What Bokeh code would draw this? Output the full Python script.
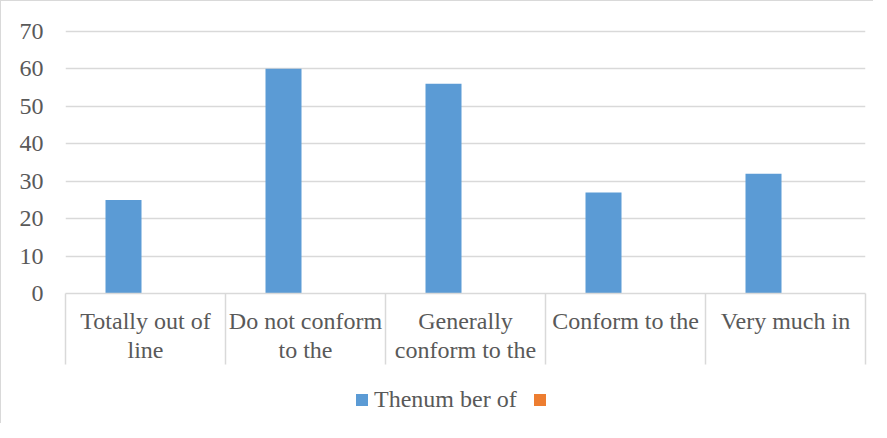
from bokeh.plotting import figure
from bokeh.layouts import column
from bokeh.models import (Range1d, FixedTicker, ColumnDataSource, Legend, LegendItem)
from bokeh.embed import file_html
from bokeh.resources import INLINE
import numpy as np

categories = ["Totally out of\nline", "Do not conform\nto the", "Generally\nconform to the",
              "Conform to the", "Very much in"]
values = [25, 60, 56, 27, 32]
values2 = [np.nan, np.nan, np.nan, np.nan, np.nan]   # second series is empty in the source
series_names = ["Thenum ber of", "\u00a0"]
y_ticks = [0, 10, 20, 30, 40, 50, 60, 70]

BLUE = "#5B9BD5"
ORANGE = "#ED7D31"
TEXT = "#595959"
GRID = "#D9D9D9"
FONT = "Liberation Serif"

n = len(categories)
centers = np.arange(n) + 0.5
bar_offset = -0.1375
bar_width = 0.225

p = figure(width=872, height=365, output_backend="svg", toolbar_location=None,
           x_range=Range1d(0, n), y_range=Range1d(0, 70.5),
           min_border_left=64, min_border_right=8, min_border_top=28, min_border_bottom=72,
           tools="")
p.outline_line_color = None
p.background_fill_color = "white"
p.border_fill_color = "white"

src1 = ColumnDataSource(dict(x=centers + bar_offset, top=values))
src2 = ColumnDataSource(dict(x=centers - bar_offset, top=values2))
r1 = p.vbar(x="x", top="top", bottom=0, width=bar_width, source=src1,
            fill_color=BLUE, line_color=None)
r2 = p.vbar(x="x", top="top", bottom=0, width=bar_width, source=src2,
            fill_color=ORANGE, line_color=None)

# y axis
p.yaxis.ticker = FixedTicker(ticks=y_ticks)
p.yaxis.axis_line_color = None
p.yaxis.major_tick_line_color = None
p.yaxis.minor_tick_line_color = None
p.yaxis.major_tick_out = 0
p.yaxis.major_tick_in = 0
p.yaxis.major_label_standoff = 22
p.yaxis.major_label_text_font = FONT
p.yaxis.major_label_text_font_size = "24px"
p.yaxis.major_label_text_color = TEXT

p.ygrid.ticker = FixedTicker(ticks=y_ticks)
p.ygrid.grid_line_color = GRID
p.ygrid.grid_line_width = 1.5
p.xgrid.grid_line_color = None

# x axis
p.xaxis.ticker = FixedTicker(ticks=list(centers), minor_ticks=list(range(n + 1)))
p.xaxis.major_label_overrides = {float(c): lab for c, lab in zip(centers, categories)}
p.xaxis.axis_line_color = GRID
p.xaxis.axis_line_width = 1.5
p.xaxis.major_tick_line_color = None
p.xaxis.major_tick_out = 0
p.xaxis.major_tick_in = 0
p.xaxis.minor_tick_line_color = GRID
p.xaxis.minor_tick_line_width = 1.5
p.xaxis.minor_tick_out = 71
p.xaxis.minor_tick_in = 0
p.xaxis.major_label_standoff = -57
p.xaxis.major_label_text_font = FONT
p.xaxis.major_label_text_font_size = "24px"
p.xaxis.major_label_text_color = TEXT
p.xaxis.major_label_text_line_height = 1.15

# legend strip
lg = figure(width=872, height=57, output_backend="svg", toolbar_location=None,
            x_range=Range1d(0, 1), y_range=Range1d(-2, -1),
            min_border_left=0, min_border_right=0, min_border_top=0, min_border_bottom=0,
            tools="")
lg.axis.visible = False
lg.grid.visible = False
lg.outline_line_color = None
lg.background_fill_color = "white"
lg.border_fill_color = "white"
e1 = lg.vbar(x="x", top="top", bottom=0, width=bar_width, source=src1,
             fill_color=BLUE, line_color=None, visible=False)
e2 = lg.vbar(x="x", top="top", bottom=0, width=bar_width, source=src2,
             fill_color=ORANGE, line_color=None, visible=False)

legend = Legend(items=[LegendItem(label=series_names[0], renderers=[e1]),
                       LegendItem(label=series_names[1], renderers=[e2])],
                orientation="horizontal", location=(289, 10))
legend.glyph_width = 15
legend.glyph_height = 15
legend.label_standoff = 5
legend.spacing = 15
legend.padding = 0
legend.margin = 0
legend.border_line_color = None
legend.background_fill_alpha = 0
legend.inactive_fill_alpha = 0
legend.label_text_font = FONT
legend.label_text_font_size = "24px"
legend.label_text_color = TEXT
lg.add_layout(legend, "center")

layout = column(p, lg, spacing=0)
layout.styles = {"border-top": "1px solid #D9D9D9", "border-left": "1px solid #D9D9D9"}

open("out.html", "w").write(file_html(layout, INLINE))
